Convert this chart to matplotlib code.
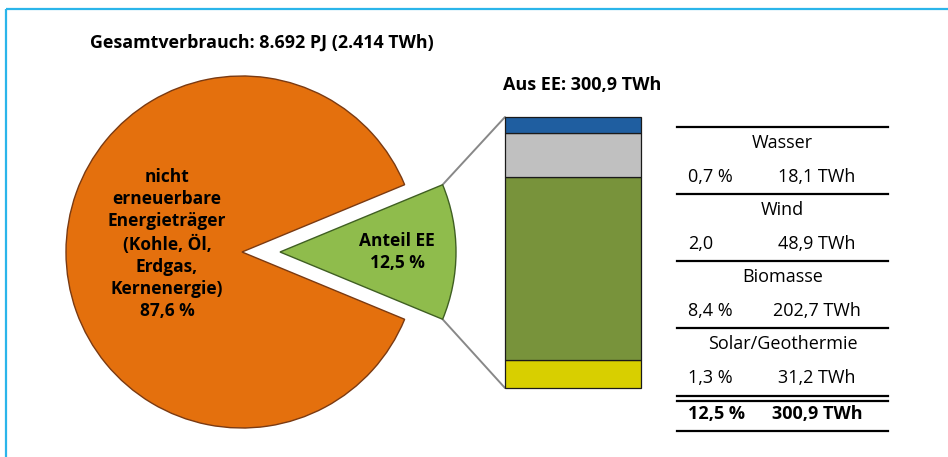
import math
import matplotlib
matplotlib.use('Agg')
import matplotlib.pyplot as plt
from matplotlib.patches import ConnectionPatch

plt.rcParams['font.family'] = ['Open Sans', 'DejaVu Sans']

# Primärenergieverbrauch, Anteile in %
pie_labels = ['Anteil EE\n12,5 %',
              'nicht\nerneuerbare\nEnergieträger\n(Kohle, Öl,\nErdgas,\nKernenergie)\n87,6 %']
pie_values = [12.5, 87.6]
pie_colors = ['#8fbc4c', '#e4700d']
pie_edges = ['#3f5f22', '#7a3a12']

# erneuerbare Energien, von unten nach oben gestapelt
ee_names = ['Solar/Geothermie', 'Biomasse', 'Wind', 'Wasser']
ee_twh = [31.2, 202.7, 48.9, 18.1]
ee_pct = ['1,3 %', '8,4 %', '2,0', '0,7 %']
ee_colors = ['#d8cf00', '#78933b', '#c0c0c0', '#1f5ea0']

title = 'Gesamtverbrauch: 8.692 PJ (2.414 TWh)'


def de(v):
    return f'{v:.1f}'.replace('.', ',')


W, H = 948, 457
fig = plt.figure(figsize=(W / 100, H / 100), dpi=100)
fig.patch.set_facecolor('white')

# Zeichenfläche in Pixelkoordinaten
ax = fig.add_axes([0, 0, 1, 1])
cx, cy, rad = 242, 252, 176
wedges, _ = ax.pie(pie_values, colors=pie_colors, center=(cx, cy), radius=rad,
                   startangle=-pie_values[0] / sum(pie_values) * 180,
                   explode=[38, 0],
                   wedgeprops=dict(linewidth=1.0))
for w, ec in zip(wedges, pie_edges):
    w.set_edgecolor(ec)
ax.set_xlim(0, W)
ax.set_ylim(H, 0)
ax.set_aspect('auto')
ax.axis('off')

ee = wedges[0]
ax.text(ee.center[0] + 117, cy, pie_labels[0], ha='center', va='center',
        fontsize=12.5, fontweight='bold', linespacing=1.25)
ax.text(167, 244, pie_labels[1], ha='center', va='center',
        fontsize=12.5, fontweight='bold', linespacing=1.28)
ax.text(90, 43, title, ha='left', va='center', fontsize=12.9, fontweight='bold')

# Rahmen
ax.plot([6.5, W], [8.5, 8.5], color='#2bb5ea', lw=1.6, solid_capstyle='butt')
ax.plot([6.5, 6.5], [8.5, H], color='#2bb5ea', lw=1.6, solid_capstyle='butt')

# gestapelte Säule
total = sum(ee_twh)
axb = fig.add_axes([505 / W, 1 - 388 / H, 136 / W, 271 / H])
bottom = 0
for v, c in zip(ee_twh, ee_colors):
    axb.bar(0, v, bottom=bottom, width=1, color=c, edgecolor='#1a1a1a',
            linewidth=0.9, clip_on=False)
    bottom += v
axb.set_xlim(-0.5, 0.5)
axb.set_ylim(0, total)
axb.axis('off')
ax.text(503, 85, 'Aus EE: ' + de(total) + ' TWh',
        ha='left', va='center', fontsize=13, fontweight='bold')

# Verbindungslinien vom EE-Segment zur Säule
for theta, yb in [(ee.theta1, total), (ee.theta2, 0)]:
    px = ee.center[0] + ee.r * math.cos(math.radians(theta))
    py = ee.center[1] + ee.r * math.sin(math.radians(theta))
    con = ConnectionPatch(xyA=(px, py), coordsA=ax.transData,
                          xyB=(-0.5, yb), coordsB=axb.transData,
                          color='#888888', lw=1.4, zorder=0)
    fig.add_artist(con)

# Tabelle
x0, x1 = 677, 888
row_h = 67
fs = 13
ax.plot([x0, x1], [127, 127], color='black', lw=1.6)
for i, (name, pct, twh) in enumerate(zip(ee_names[::-1], ee_pct[::-1], ee_twh[::-1])):
    top = 127 + i * row_h
    ax.text((x0 + x1) / 2, top + 16, name, ha='center', va='center', fontsize=fs)
    ax.text(688, top + 50, pct, ha='left', va='center', fontsize=fs)
    ax.text(817, top + 50, de(twh) + ' TWh', ha='center', va='center', fontsize=fs)
    if i < 3:
        ax.plot([x0, x1], [top + row_h, top + row_h], color='black', lw=1.6)
ax.plot([x0, x1], [396, 396], color='black', lw=1.6)
ax.plot([x0, x1], [401, 401], color='black', lw=1.6)
ax.plot([x0, x1], [431, 431], color='black', lw=1.6)
ax.text(688, 414, de(pie_values[0]) + ' %', ha='left', va='center',
        fontsize=fs, fontweight='bold')
ax.text(817, 414, de(total) + ' TWh', ha='center', va='center',
        fontsize=fs, fontweight='bold')

fig.savefig('out.png', dpi=100)
